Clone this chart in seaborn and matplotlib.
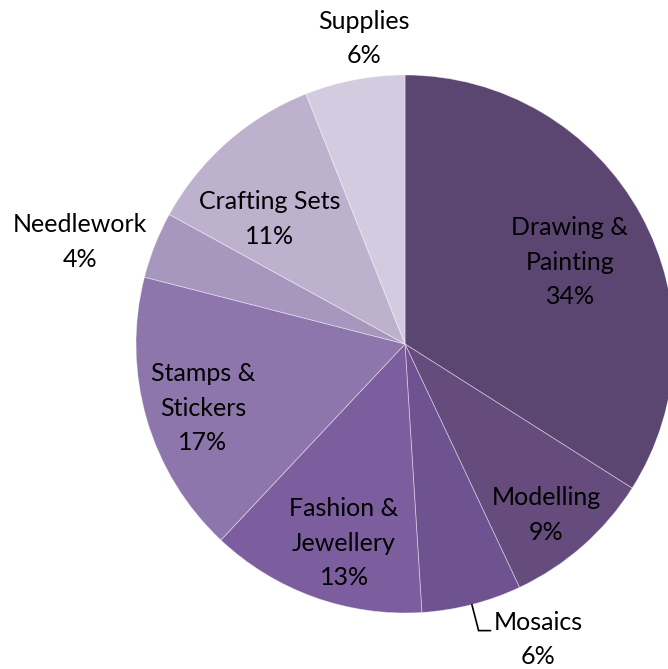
import numpy as np
import matplotlib
matplotlib.use("Agg")
import matplotlib.pyplot as plt
import seaborn as sns

# Share of craft product categories (percent)
categories = ["Drawing &\nPainting", "Modelling", "Mosaics", "Fashion &\nJewellery",
              "Stamps &\nStickers", "Needlework", "Crafting Sets", "Supplies"]
shares = [34, 9, 6, 13, 17, 4, 11, 6]
colors = ["#5B4571", "#654C7D", "#6F5390", "#7C5E9E",
          "#8D76AC", "#A797BF", "#BDB1CE", "#D3CBDF"]

sns.set_theme(style="white")
plt.rcParams["font.family"] = ["Lato", "DejaVu Sans"]

W, H = 668, 669
fig = plt.figure(figsize=(W / 100, H / 100), dpi=100)
ax = fig.add_axes([0, 0, 1, 1])

cx, cy, R = 405, H - 344, 269
wedges, _ = ax.pie(shares, colors=colors, startangle=90, counterclock=False,
                   center=(cx, cy), radius=R, frame=True,
                   wedgeprops=dict(edgecolor=(1, 1, 1, 0.45), linewidth=0.6))
ax.set_xlim(0, W)
ax.set_ylim(0, H)
ax.set_aspect("equal")
ax.axis("off")

# label placement: (radial fraction, angle nudge in degrees, ha, va); None = callout
placement = [(0.685, -2.4, "center", "center"), (0.824, -1.9, "center", "center"), None,
             (0.774, 2.8, "center", "center"), (0.788, 1.4, "center", "center"),
             (1.03, 0, "right", "center"), (0.684, 5.8, "center", "center"),
             (1.04, -2.3, "center", "bottom")]

fs = 18
ls = 1.62
for w, cat, val, pl in zip(wedges, categories, shares, placement):
    mid = np.deg2rad((w.theta1 + w.theta2) / 2)
    label = f"{cat}\n{val}%"
    if pl is None:
        ex, ey = cx + R * np.cos(mid), cy + R * np.sin(mid)
        kx, ky = cx + 1.10 * R * np.cos(mid), cy + 1.10 * R * np.sin(mid)
        ax.plot([ex, kx, kx + 12], [ey, ky, ky], color="black", lw=1.2,
                solid_joinstyle="miter")
        ax.text(kx + 15, ky - 9, label, ha="left", va="center",
                multialignment="center", fontsize=fs, linespacing=ls,
                color="black")
        continue
    f, nudge, ha, va = pl
    a = mid + np.deg2rad(nudge)
    x, y = cx + f * R * np.cos(a), cy + f * R * np.sin(a)
    ax.text(x, y, label, ha=ha, va=va, multialignment="center", fontsize=fs,
            linespacing=ls, color="black")

fig.savefig("out.png", dpi=100)
